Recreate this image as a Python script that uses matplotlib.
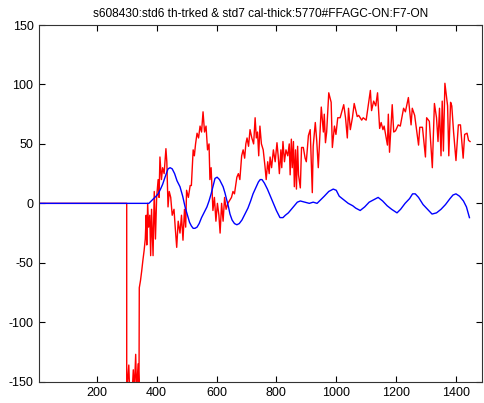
import matplotlib
matplotlib.use('Agg')
import matplotlib.pyplot as plt

plt.rcParams['font.family'] = ['Liberation Sans', 'DejaVu Sans']
plt.rcParams['axes.unicode_minus'] = False

# th-trked (red)
red_x = [0, 300, 300, 307, 310, 318, 322, 325, 330, 333, 338, 341, 342, 346, 350, 354, 358,
         362, 365, 367, 370, 373, 377, 380, 383, 388, 392, 396, 400, 405, 408, 411, 416, 420,
         425, 431, 434, 438, 442, 447, 452, 458, 462, 467, 472, 478, 483, 488, 493, 497, 500,
         506, 512, 516, 522, 526, 530, 535, 540, 545, 550, 555, 560, 565, 570, 575, 578, 582,
         588, 593, 598, 603, 608, 612, 617, 622, 627, 632, 638, 645, 650, 655, 660, 668, 673,
         678, 684, 689, 694, 698, 702, 707, 712, 718, 724, 729, 733, 737, 741, 745, 750, 756,
         762, 766, 771, 776, 779, 784, 790, 796, 802, 806, 810, 815, 818, 822, 827, 832, 838,
         843, 846, 850, 853, 857, 860, 864, 867, 871, 874, 880, 884, 890, 896, 900, 907, 913,
         920, 923, 930, 935, 940, 950, 957, 960, 964, 968, 975, 983, 987, 994, 999, 1005,
         1010, 1013, 1025, 1031, 1037, 1041, 1047, 1054, 1060, 1070, 1075, 1085, 1090, 1100,
         1114, 1118, 1125, 1132, 1138, 1145, 1150, 1156, 1160, 1171, 1174, 1178, 1187, 1192,
         1198, 1207, 1214, 1225, 1231, 1241, 1250, 1254, 1262, 1275, 1279, 1288, 1298, 1302,
         1311, 1321, 1328, 1335, 1340, 1345, 1350, 1354, 1358, 1363, 1372, 1376, 1382, 1386,
         1392, 1400, 1408, 1415, 1424, 1429, 1437, 1442, 1447]
red_y = [0, 0, -160, -136, -160, -160, -140, -160, -127, -160, -135, -160, -71, -65, -57, -48, -40,
         -30, -10, -35, 0, -20, -10, -44, -5, -44, 10, -30, 5, 20, 5, 39, 20, 30,
         25, 46, 35, -3, 10, 5, -10, -5, -20, -37, -15, -25, -10, -31, -5, -20, 11,
         5, 15, 15, 45, 40, 50, 59, 55, 65, 60, 77, 60, 65, 45, 50, 20, 30,
         -6, 5, -15, 0, -10, -25, 0, -15, 5, -5, 0, 3, 5, 10, 8, 22, 25,
         20, 40, 45, 38, 50, 55, 48, 62, 55, 50, 72, 55, 60, 40, 65, 50, 45,
         31, 20, 35, 25, 39, 30, 45, 35, 51, 40, 25, 45, 30, 52, 35, 45, 40,
         50, 24, 54, 30, 52, 14, 45, 12, 48, 24, 13, 47, 47, 38, 35, 57, 62,
         9, 48, 68, 52, 30, 81, 60, 75, 51, 60, 93, 85, 47, 65, 58, 72,
         72, 72, 83, 72, 55, 80, 62, 72, 84, 73, 74, 70, 72, 70,
         95, 78, 86, 82, 93, 63, 68, 62, 65, 49, 75, 43, 83, 60,
         61, 66, 65, 80, 77, 89, 66, 80, 74, 49, 64, 64, 39, 72,
         69, 30, 84, 72, 52, 80, 40, 86, 44, 101, 82, 40, 85, 82,
         60, 36, 66, 66, 38, 58, 59, 53, 52]

# cal-thick (blue)
blue_x = [0, 374, 382, 390, 398, 405, 413, 420, 428, 438, 445, 452, 460, 468, 478, 487, 495,
          503, 510, 516, 522, 528, 535, 542, 550, 558, 568, 575, 582, 590, 595, 602, 610, 616,
          622, 628, 635, 640, 645, 652, 660, 668, 676, 685, 695, 705, 714, 722, 731, 740, 746,
          752, 760, 770, 780, 790, 800, 812, 822, 830, 840, 850, 860, 870, 880, 895, 910, 923,
          936, 948, 960, 975, 990, 1000, 1010, 1025, 1040, 1055, 1065, 1080, 1095, 1110, 1125,
          1140, 1155, 1170, 1185, 1203, 1215, 1230, 1245, 1255, 1264, 1275, 1290, 1305, 1320,
          1335, 1350, 1365, 1380, 1390, 1400, 1412, 1425, 1435, 1445]
blue_y = [0, 0, 2, 4, 6, 8, 12, 16, 22, 29, 30, 29, 25, 19, 14, 6, -3,
          -10, -16, -19, -21, -21, -20, -17, -12, -8, -3, 2, 8, 16, 21, 22, 20, 17,
          14, 9, 2, -3, -9, -14, -17, -18, -17, -14, -9, -4, 2, 8, 13, 18, 20,
          20, 17, 12, 6, 0, -6, -12, -12, -10, -8, -5, -2, 1, 2, 1, 0, 1,
          0, 3, 6, 10, 12, 11, 6, 3, 0, -2, -4, -6, -3, 1, 3,
          5, 2, -2, -5, -8, -5, 0, 4, 8, 8, 5, -1, -5, -9,
          -8, -5, -1, 4, 7, 8, 6, 2, -3, -12]

title = 's608430:std6 th-trked & std7 cal-thick:5770#FFAGC-ON:F7-ON'
x_ticks = [200, 400, 600, 800, 1000, 1200, 1400]
y_ticks = [-150, -100, -50, 0, 50, 100, 150]

fig = plt.figure(figsize=(4.84, 4.03), dpi=100)
ax = fig.add_axes([0.0806, 0.0529, 0.9153, 0.885])
ax.plot(red_x, red_y, color='red', lw=1.0)
ax.plot(blue_x, blue_y, color='blue', lw=1.0)
ax.set_xlim(7, 1487)
ax.set_ylim(-150, 150)
ax.set_xticks(x_ticks)
ax.set_yticks(y_ticks)
ax.tick_params(direction='in', length=4, top=True, right=True, labelsize=9, pad=4)
for s in ax.spines.values():
    s.set_color('#333333')
ax.set_title(title, fontsize=8.6, pad=6)
fig.savefig('out.png', dpi=100)
